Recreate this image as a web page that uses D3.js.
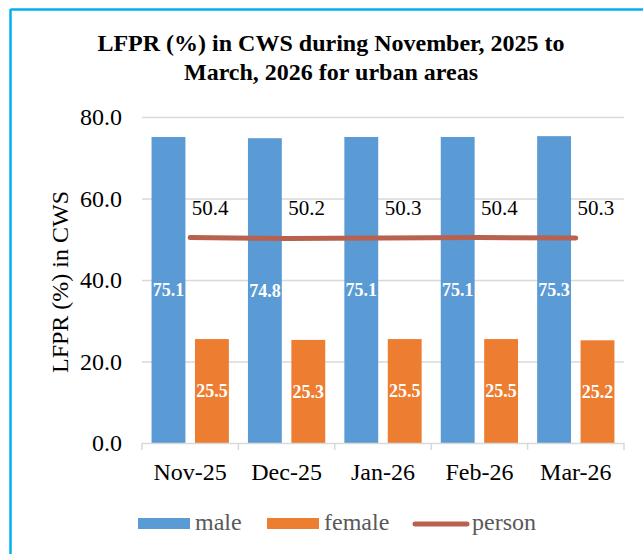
<!DOCTYPE html>
<html>
<head>
<meta charset="utf-8">
<script src="https://cdn.jsdelivr.net/npm/d3@7"></script>
<style>
  body { margin: 0; background: #fff; }
  svg { display: block; font-family: "Liberation Serif", "Times New Roman", serif; }
</style>
</head>
<body>
<svg id="chart" width="643" height="554"></svg>
<script>
// data
var months = ["Nov-25", "Dec-25", "Jan-26", "Feb-26", "Mar-26"];
var male = [75.1, 74.8, 75.1, 75.1, 75.3];
var female = [25.5, 25.3, 25.5, 25.5, 25.2];
var person = [50.4, 50.2, 50.3, 50.4, 50.3];
var yTicks = [0, 20, 40, 60, 80];
var titleLines = ["LFPR (%) in CWS during November, 2025 to", "March, 2026 for urban areas"];

var svg = d3.select("#chart");

// outer frame (only top and left edges show in the picture)
svg.append("line").attr("x1", 10.5).attr("x2", 643).attr("y1", 9.5).attr("y2", 9.5)
    .attr("stroke", "#00B0F0").attr("stroke-width", 2.5);
svg.append("line").attr("x1", 10.5).attr("x2", 10.5).attr("y1", 9).attr("y2", 554)
    .attr("stroke", "#00B0F0").attr("stroke-width", 2.5);

// title
svg.append("g").selectAll("text")
    .data(titleLines)
    .enter().append("text")
    .attr("x", 331)
    .attr("y", (d, i) => 51 + i * 29)
    .attr("text-anchor", "middle")
    .attr("font-weight", "bold")
    .attr("font-size", 24)
    .attr("fill", "#000")
    .text(d => d);

var plotLeft = 142, plotRight = 624, plotTop = 117, plotBottom = 443;

var x0 = d3.scaleBand().domain(months).range([plotLeft, plotRight]).padding(0);
var x1 = d3.scaleBand().domain(["male", "female"]).range([0, x0.bandwidth()])
    .paddingInner(0.22).paddingOuter(0.22);
var y = d3.scaleLinear().domain([0, 80]).range([plotBottom, plotTop]);

// gridlines
svg.append("g").selectAll("line")
    .data(yTicks.filter(d => d > 0))
    .enter().append("line")
    .attr("x1", plotLeft).attr("x2", plotRight)
    .attr("y1", d => y(d) + 0.5).attr("y2", d => y(d) + 0.5)
    .attr("stroke", "#D9D9D9").attr("stroke-width", 1.5);

// y axis labels
var yAxis = d3.axisLeft(y).tickValues(yTicks).tickFormat(d3.format(".1f")).tickSize(0).tickPadding(20);
var gY = svg.append("g").attr("transform", `translate(${plotLeft},0)`).call(yAxis);
gY.select(".domain").remove();
gY.selectAll("text").attr("font-family", "Liberation Serif").attr("font-size", 24).attr("fill", "#000");

// y axis title
svg.append("text")
    .attr("transform", "translate(68,282) rotate(-90)")
    .attr("text-anchor", "middle")
    .attr("font-size", 24)
    .attr("fill", "#000")
    .text("LFPR (%) in CWS");

// bars
var rows = months.map((m, i) => ({m: m, male: male[i], female: female[i]}));
var colors = {male: "#5B9BD5", female: "#ED7D31"};

var groups = svg.append("g").selectAll("g")
    .data(rows)
    .enter().append("g")
    .attr("transform", d => `translate(${x0(d.m)},0)`);

groups.selectAll("rect")
    .data(d => ["male", "female"].map(k => ({k: k, v: d[k]})))
    .enter().append("rect")
    .attr("x", d => x1(d.k))
    .attr("width", x1.bandwidth())
    .attr("y", d => y(d.v))
    .attr("height", d => y(0) - y(d.v))
    .attr("fill", d => colors[d.k]);

groups.selectAll("text.val")
    .data(d => ["male", "female"].map(k => ({k: k, v: d[k]})))
    .enter().append("text")
    .attr("class", "val")
    .attr("x", d => x1(d.k) + x1.bandwidth() / 2)
    .attr("y", d => (y(d.v) + y(0)) / 2)
    .attr("dy", "0.35em")
    .attr("text-anchor", "middle")
    .attr("font-weight", "bold")
    .attr("font-size", 18)
    .attr("fill", "#fff")
    .text(d => d.v.toFixed(1));

// x axis
var gX = svg.append("g").attr("transform", `translate(0,${plotBottom})`);
gX.append("line").attr("x1", plotLeft).attr("x2", plotRight).attr("y1", 0.5).attr("y2", 0.5)
    .attr("stroke", "#D9D9D9").attr("stroke-width", 1.5);
gX.selectAll("line.tick")
    .data(months.map(m => x0(m)).concat([plotRight]))
    .enter().append("line")
    .attr("class", "tick")
    .attr("x1", d => d).attr("x2", d => d)
    .attr("y1", 0).attr("y2", 7)
    .attr("stroke", "#D9D9D9").attr("stroke-width", 1.5);
gX.selectAll("text")
    .data(months)
    .enter().append("text")
    .attr("x", d => x0(d) + x0.bandwidth() / 2)
    .attr("y", 37)
    .attr("text-anchor", "middle")
    .attr("font-size", 24)
    .attr("fill", "#000")
    .text(d => d);

// person line
var line = d3.line()
    .x((d, i) => x0(months[i]) + x0.bandwidth() / 2)
    .y(d => y(d));

svg.append("path")
    .attr("d", line(person))
    .attr("fill", "none")
    .attr("stroke", "#B8614F")
    .attr("stroke-width", 5)
    .attr("stroke-linecap", "round");

svg.append("g").selectAll("text")
    .data(person)
    .enter().append("text")
    .attr("x", (d, i) => x0(months[i]) + x0.bandwidth() / 2 + 20)
    .attr("y", 215)
    .attr("text-anchor", "middle")
    .attr("font-size", 21)
    .attr("fill", "#000")
    .text(d => d.toFixed(1));

// legend
var legend = svg.append("g").attr("transform", "translate(0,524)");
var items = [
    {name: "male", type: "rect", color: colors.male, x: 138},
    {name: "female", type: "rect", color: colors.female, x: 267},
    {name: "person", type: "line", color: "#B8614F", x: 415}
];
items.forEach(it => {
    if (it.type === "rect") {
        legend.append("rect").attr("x", it.x).attr("y", -6).attr("width", 52).attr("height", 11).attr("fill", it.color);
    } else {
        legend.append("line").attr("x1", it.x).attr("x2", it.x + 52).attr("y1", 0).attr("y2", 0)
            .attr("stroke", it.color).attr("stroke-width", 5).attr("stroke-linecap", "round");
    }
    legend.append("text")
        .attr("x", it.x + 57)
        .attr("y", 6)
        .attr("font-size", 24)
        .attr("fill", "#595959")
        .text(it.name);
});
</script>
</body>
</html>
